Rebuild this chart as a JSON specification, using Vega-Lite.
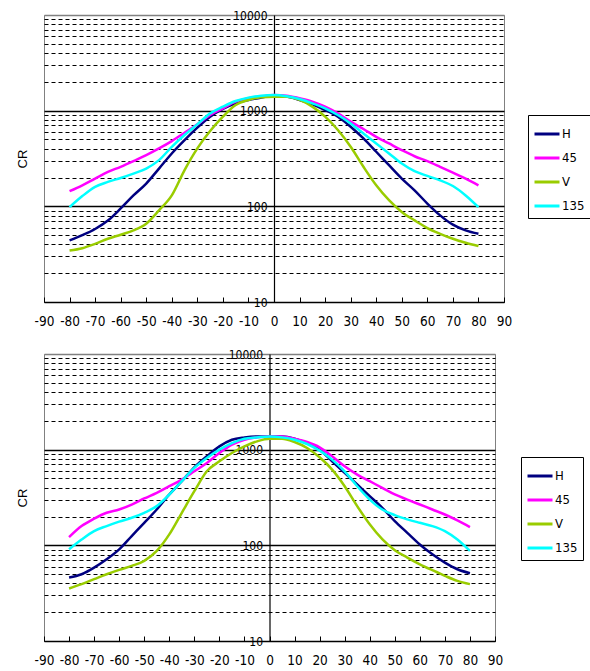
{
  "$schema": "https://vega.github.io/schema/vega-lite/v6.json",
  "background": "white",
  "padding": {"left": 15, "top": 8, "right": 0, "bottom": 0},
  "spacing": 19,
  "resolve": {"legend": {"color": "independent"}},
  "config": {
    "view": {"stroke": "#808080", "strokeWidth": 1},
    "font": "DejaVu Sans Condensed, sans-serif",
    "axis": {"labelColor": "black", "labelFont": "DejaVu Sans Condensed, sans-serif"},
    "legend": {"labelFont": "DejaVu Sans Condensed, sans-serif"}
  },
  "datasets": {
    "top": [
      {"a": -80, "H": 44, "45": 144, "V": 34.5, "135": 98},
      {"a": -75, "H": 50, "45": 166, "V": 36.5, "135": 128},
      {"a": -70, "H": 58, "45": 195, "V": 40.5, "135": 160},
      {"a": -65, "H": 71, "45": 229, "V": 45.8, "135": 180},
      {"a": -60, "H": 95, "45": 259, "V": 50.5, "135": 198},
      {"a": -55, "H": 130, "45": 297, "V": 56, "135": 220},
      {"a": -50, "H": 173, "45": 343, "V": 65.8, "135": 248},
      {"a": -45, "H": 248, "45": 403, "V": 90.7, "135": 304},
      {"a": -40, "H": 357, "45": 481, "V": 130, "135": 419},
      {"a": -35, "H": 492, "45": 588, "V": 239, "135": 556},
      {"a": -30, "H": 664, "45": 719, "V": 403, "135": 719},
      {"a": -25, "H": 865, "45": 901, "V": 612, "135": 937},
      {"a": -20, "H": 1041, "45": 1058, "V": 865, "135": 1101},
      {"a": -15, "H": 1194, "45": 1243, "V": 1146, "135": 1262},
      {"a": -10, "H": 1294, "45": 1346, "V": 1294, "135": 1369},
      {"a": -5, "H": 1369, "45": 1402, "V": 1380, "135": 1436},
      {"a": 0, "H": 1436, "45": 1459, "V": 1402, "135": 1459},
      {"a": 5, "H": 1402, "45": 1436, "V": 1402, "135": 1414},
      {"a": 10, "H": 1294, "45": 1346, "V": 1294, "135": 1324},
      {"a": 15, "H": 1165, "45": 1243, "V": 1101, "135": 1194},
      {"a": 20, "H": 1016, "45": 1101, "V": 865, "135": 1058},
      {"a": 25, "H": 865, "45": 937, "V": 627, "135": 901},
      {"a": 30, "H": 680, "45": 767, "V": 419, "135": 736},
      {"a": 35, "H": 513, "45": 643, "V": 259, "135": 578},
      {"a": 40, "H": 372, "45": 533, "V": 166, "135": 454},
      {"a": 45, "H": 269, "45": 454, "V": 116, "135": 357},
      {"a": 50, "H": 195, "45": 387, "V": 87.3, "135": 280},
      {"a": 55, "H": 147, "45": 334, "V": 71.3, "135": 233},
      {"a": 60, "H": 107, "45": 297, "V": 59.3, "135": 208},
      {"a": 65, "H": 80.5, "45": 259, "V": 51.6, "135": 187},
      {"a": 70, "H": 64.3, "45": 225, "V": 45.8, "135": 163},
      {"a": 75, "H": 56, "45": 195, "V": 41.6, "135": 130},
      {"a": 80, "H": 51.6, "45": 166, "V": 38.4, "135": 98}
    ],
    "bottom": [
      {"a": -80, "H": 46, "45": 122, "V": 35.4, "135": 90.8},
      {"a": -75, "H": 49.9, "45": 159, "V": 39.3, "135": 115},
      {"a": -70, "H": 58.5, "45": 190, "V": 44.3, "135": 141},
      {"a": -65, "H": 71.5, "45": 219, "V": 49.9, "135": 159},
      {"a": -60, "H": 90.8, "45": 237, "V": 55.4, "135": 177},
      {"a": -55, "H": 125, "45": 267, "V": 60.9, "135": 194},
      {"a": -50, "H": 172, "45": 309, "V": 68.7, "135": 219},
      {"a": -45, "H": 237, "45": 354, "V": 87.3, "135": 257},
      {"a": -40, "H": 340, "45": 415, "V": 130, "135": 340},
      {"a": -35, "H": 468, "45": 487, "V": 219, "135": 468},
      {"a": -30, "H": 654, "45": 594, "V": 368, "135": 644},
      {"a": -25, "H": 853, "45": 726, "V": 594, "135": 819},
      {"a": -20, "H": 1083, "45": 923, "V": 755, "135": 1000},
      {"a": -15, "H": 1271, "45": 1127, "V": 923, "135": 1173},
      {"a": -10, "H": 1344, "45": 1271, "V": 1083, "135": 1302},
      {"a": -5, "H": 1377, "45": 1344, "V": 1222, "135": 1344},
      {"a": 0, "H": 1377, "45": 1377, "V": 1302, "135": 1377},
      {"a": 5, "H": 1370, "45": 1377, "V": 1302, "135": 1344},
      {"a": 10, "H": 1302, "45": 1302, "V": 1202, "135": 1271},
      {"a": 15, "H": 1173, "45": 1202, "V": 1041, "135": 1146},
      {"a": 20, "H": 1000, "45": 1058, "V": 832, "135": 977},
      {"a": 25, "H": 755, "45": 853, "V": 619, "135": 787},
      {"a": 30, "H": 571, "45": 670, "V": 415, "135": 594},
      {"a": 35, "H": 432, "45": 549, "V": 257, "135": 415},
      {"a": 40, "H": 327, "45": 468, "V": 166, "135": 301},
      {"a": 45, "H": 247, "45": 399, "V": 116, "135": 237},
      {"a": 50, "H": 179, "45": 340, "V": 88.8, "135": 207},
      {"a": 55, "H": 135, "45": 301, "V": 74.5, "135": 187},
      {"a": 60, "H": 102, "45": 267, "V": 63.4, "135": 172},
      {"a": 65, "H": 80.5, "45": 237, "V": 55, "135": 159},
      {"a": 70, "H": 65.9, "45": 210, "V": 48, "135": 141},
      {"a": 75, "H": 56.2, "45": 182, "V": 42.5, "135": 115},
      {"a": 80, "H": 51.1, "45": 155, "V": 39.3, "135": 87.3}
    ]
  },
  "vconcat": [
    {
      "width": 460,
      "height": 287,
      "data": {"name": "top"},
      "transform": [{"fold": ["H", "45", "V", "135"], "as": ["key", "value"]}],
      "mark": {"type": "line", "strokeWidth": 2.5, "interpolate": "monotone"},
      "encoding": {
        "x": {
          "field": "a", "type": "quantitative",
          "scale": {"domain": [-90, 90], "nice": false},
          "axis": {
            "title": null,
            "values": [-90, -80, -70, -60, -50, -40, -30, -20, -10, 0, 10, 20, 30, 40, 50, 60, 70, 80, 90],
            "labelExpr": "'' + datum.value",
            "labelOverlap": false,
            "grid": false, "domainColor": "black", "domainWidth": 1.2,
            "tickColor": "black", "tickSize": -5, "labelPadding": 17,
            "labelFontSize": 13.5, "labelFlush": false
          }
        },
        "y": {
          "field": "value", "type": "quantitative",
          "scale": {"type": "log", "domain": [10, 10000], "nice": false},
          "axis": {
            "title": "CR",
            "titleFont": "Liberation Sans", "titleFontSize": 13, "titleFontWeight": "normal",
            "titleX": -252, "titleY": 143.5, "titleAngle": 270, "titleAlign": "center", "titleBaseline": "middle",
            "offset": -230,
            "values": [10, 20, 30, 40, 50, 60, 70, 80, 90, 100, 200, 300, 400, 500, 600, 700, 800, 900, 1000, 2000, 3000, 4000, 5000, 6000, 7000, 8000, 9000, 10000],
            "format": "d",
            "labelExpr": "indexof([10,100,1000,10000], datum.value) >= 0 ? datum.label : ''",
            "labelFontSize": 12, "labelPadding": 7, "labelFlush": false, "labelOverlap": false,
            "ticks": false, "domainColor": "black", "domainWidth": 1.2,
            "grid": true,
            "gridColor": {"condition": {"test": "datum.value == 10000", "value": "#808080"}, "value": "black"},
            "gridWidth": {"condition": {"test": "indexof([10,100,1000,10000], datum.value) >= 0", "value": 1.3}, "value": 1},
            "gridDash": {"condition": {"test": "indexof([10,100,1000,10000], datum.value) >= 0", "value": []}, "value": [4, 3]}
          }
        },
        "color": {
          "field": "key", "type": "nominal",
          "scale": {"domain": ["H", "45", "V", "135"], "range": ["#000080", "#FF00FF", "#99CC00", "#00FFFF"]},
          "legend": {
            "title": null, "orient": "none", "legendX": 484, "legendY": 100,
            "strokeColor": "black", "fillColor": "white", "padding": 5,
            "symbolType": "stroke", "symbolSize": 625, "symbolStrokeWidth": 3,
            "labelFontSize": 13, "labelColor": "black", "labelOffset": 1, "rowPadding": 3
          }
        }
      }
    },
    {
      "width": 451,
      "height": 287,
      "data": {"name": "bottom"},
      "transform": [{"fold": ["H", "45", "V", "135"], "as": ["key", "value"]}],
      "mark": {"type": "line", "strokeWidth": 2.5, "interpolate": "monotone"},
      "encoding": {
        "x": {
          "field": "a", "type": "quantitative",
          "scale": {"domain": [-90, 90], "nice": false},
          "axis": {
            "title": null,
            "values": [-90, -80, -70, -60, -50, -40, -30, -20, -10, 0, 10, 20, 30, 40, 50, 60, 70, 80, 90],
            "labelExpr": "'' + datum.value",
            "labelOverlap": false,
            "grid": false, "domainColor": "black", "domainWidth": 1.2,
            "tickColor": "black", "tickSize": -5, "labelPadding": 17,
            "labelFontSize": 13.5, "labelFlush": false
          }
        },
        "y": {
          "field": "value", "type": "quantitative",
          "scale": {"type": "log", "domain": [10, 10000], "nice": false},
          "axis": {
            "title": "CR",
            "titleFont": "Liberation Sans", "titleFontSize": 13, "titleFontWeight": "normal",
            "titleX": -247.5, "titleY": 143.5, "titleAngle": 270, "titleAlign": "center", "titleBaseline": "middle",
            "offset": -225.5,
            "values": [10, 20, 30, 40, 50, 60, 70, 80, 90, 100, 200, 300, 400, 500, 600, 700, 800, 900, 1000, 2000, 3000, 4000, 5000, 6000, 7000, 8000, 9000, 10000],
            "format": "d",
            "labelExpr": "indexof([10,100,1000,10000], datum.value) >= 0 ? datum.label : ''",
            "labelFontSize": 12, "labelPadding": 7, "labelFlush": false, "labelOverlap": false,
            "ticks": false, "domainColor": "black", "domainWidth": 1.2,
            "grid": true,
            "gridColor": {"condition": {"test": "datum.value == 10000", "value": "#808080"}, "value": "black"},
            "gridWidth": {"condition": {"test": "indexof([10,100,1000,10000], datum.value) >= 0", "value": 1.3}, "value": 1},
            "gridDash": {"condition": {"test": "indexof([10,100,1000,10000], datum.value) >= 0", "value": []}, "value": [4, 3]}
          }
        },
        "color": {
          "field": "key", "type": "nominal",
          "scale": {"domain": ["H", "45", "V", "135"], "range": ["#000080", "#FF00FF", "#99CC00", "#00FFFF"]},
          "legend": {
            "title": null, "orient": "none", "legendX": 477, "legendY": 103,
            "strokeColor": "black", "fillColor": "white", "padding": 5,
            "symbolType": "stroke", "symbolSize": 625, "symbolStrokeWidth": 3,
            "labelFontSize": 13, "labelColor": "black", "labelOffset": 1, "rowPadding": 3
          }
        }
      }
    }
  ]
}
